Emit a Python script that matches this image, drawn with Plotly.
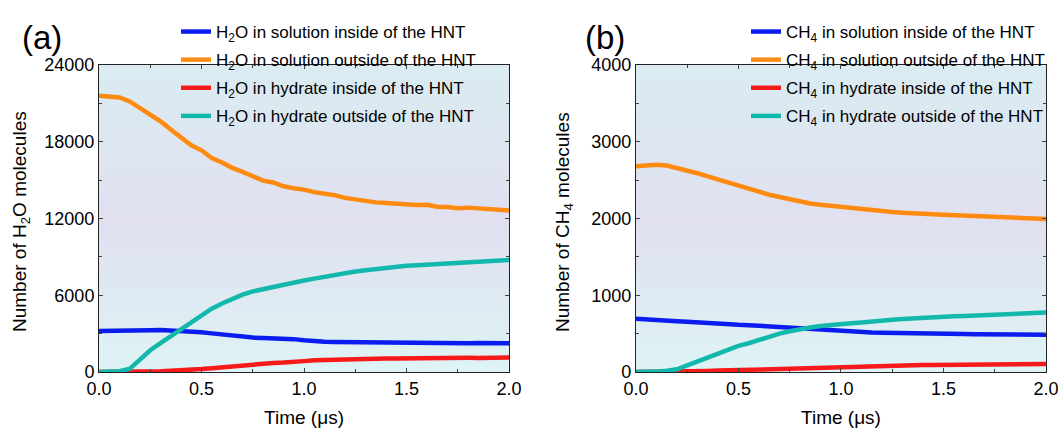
import plotly.graph_objects as go
from plotly.subplots import make_subplots

# Simulation time (microseconds)
time_us = [round(0.05 * i, 2) for i in range(41)]

# (a) Number of H2O molecules
h2o_sol_in = [3200, 3230, 3250, 3240, 3265, 3270, 3285, 3250, 3235, 3180,
              3100, 3020, 2930, 2840, 2730, 2690, 2650, 2630, 2600, 2570,
              2480, 2390, 2360, 2340, 2330, 2300, 2290, 2270, 2280, 2260,
              2250, 2270, 2240, 2250, 2260, 2230, 2240, 2260, 2230, 2240, 2250]
h2o_sol_out = [21600, 21560, 21460, 21150, 20650, 20180, 19600, 18950, 18280, 17720,
               17330, 16720, 16380, 15960, 15650, 15270, 14960, 14820, 14520, 14370,
               14260, 14060, 13960, 13820, 13610, 13470, 13360, 13260, 13220, 13150,
               13110, 13060, 13080, 12920, 12900, 12810, 12850, 12790, 12770, 12720, 12620]
h2o_hyd_in = [0, 0, 0, 10, 20, 40, 60, 90, 120, 170,
              230, 300, 380, 460, 550, 620, 680, 710, 740, 760,
              850, 920, 950, 960, 980, 1000, 1020, 1030, 1050, 1060,
              1080, 1070, 1090, 1080, 1100, 1090, 1110, 1100, 1120, 1110, 1130]
h2o_hyd_out = [0, 20, 60, 250, 950, 1700, 2250, 2800, 3350, 3950,
               4450, 4950, 5350, 5700, 6050, 6300, 6480, 6700, 6850, 7000,
               7150, 7300, 7450, 7550, 7720, 7850, 7950, 8060, 8150, 8200,
               8310, 8350, 8400, 8430, 8480, 8500, 8560, 8600, 8640, 8700, 8760]

# (b) Number of CH4 molecules
ch4_sol_in = [695, 690, 680, 672, 662, 655, 645, 636, 628, 620,
              615, 610, 602, 595, 585, 572, 562, 555, 552, 550,
              535, 520, 518, 515, 512, 508, 505, 503, 500, 498,
              497, 495, 494, 492, 491, 490, 489, 488, 487, 486, 485]
ch4_sol_out = [2680, 2690, 2700, 2690, 2660, 2620, 2590, 2550, 2510, 2460,
               2420, 2380, 2340, 2310, 2280, 2250, 2220, 2195, 2180, 2165,
               2160, 2140, 2125, 2110, 2100, 2085, 2075, 2065, 2060, 2055,
               2050, 2045, 2040, 2040, 2030, 2025, 2020, 2015, 2010, 2000, 1995]
ch4_hyd_in = [0, 0, 0, 0, 3, 6, 10, 14, 18, 22,
              26, 30, 36, 42, 48, 52, 55, 58, 60, 62,
              66, 72, 76, 80, 82, 84, 86, 88, 90, 92,
              94, 95, 96, 97, 98, 99, 100, 100, 101, 102, 103]
ch4_hyd_out = [0, 0, 5, 15, 35, 85, 135, 190, 245, 295,
               340, 375, 420, 460, 500, 530, 560, 580, 600, 615,
               625, 635, 645, 660, 670, 680, 690, 700, 705, 715,
               720, 725, 730, 735, 740, 745, 750, 755, 760, 765, 775]

series_colors = ["#0b1cf0", "#ff8a10", "#f81a1a", "#12b8ac"]
h2o_names = ["H<sub>2</sub>O in solution inside of the HNT",
             "H<sub>2</sub>O in solution outside of the HNT",
             "H<sub>2</sub>O in hydrate inside of the HNT",
             "H<sub>2</sub>O in hydrate outside of the HNT"]
ch4_names = ["CH<sub>4</sub> in solution inside of the HNT",
             "CH<sub>4</sub> in solution outside of the HNT",
             "CH<sub>4</sub> in hydrate inside of the HNT",
             "CH<sub>4</sub> in hydrate outside of the HNT"]

FONT = "Liberation Sans, Arial, sans-serif"
W, H = 1061, 428
ML, MR, MT, MB = 99, 15, 65, 56
plot_w = W - ML - MR
plot_h = H - MT - MB


def px_x(p):
    """Horizontal pixel position -> paper fraction."""
    return (p - ML) / plot_w


def px_y(p):
    """Vertical pixel position (from top) -> paper fraction."""
    return (H - MB - p) / plot_h


fig = make_subplots(rows=1, cols=2, horizontal_spacing=0.134)

for i, (ys, name) in enumerate(zip([h2o_sol_in, h2o_sol_out, h2o_hyd_in, h2o_hyd_out], h2o_names)):
    fig.add_trace(go.Scatter(x=time_us, y=ys, mode="lines", name=name,
                             line=dict(color=series_colors[i], width=4.5),
                             legend="legend", legendgroup=f"a{i}"), row=1, col=1)
for i, (ys, name) in enumerate(zip([ch4_sol_in, ch4_sol_out, ch4_hyd_in, ch4_hyd_out], ch4_names)):
    fig.add_trace(go.Scatter(x=time_us, y=ys, mode="lines", name=name,
                             line=dict(color=series_colors[i], width=4.5),
                             legend="legend2", legendgroup=f"b{i}"), row=1, col=2)

# Vertical background gradient in each plot area: pale cyan bottom, lavender middle, blue-grey top
stops = [(0.0, (222, 243, 245)), (0.5, (224, 224, 240)), (1.0, (218, 236, 241))]


def grad_color(f):
    for (f0, c0), (f1, c1) in zip(stops[:-1], stops[1:]):
        if f0 <= f <= f1:
            u = (f - f0) / (f1 - f0)
            return "rgb(%d,%d,%d)" % tuple(round(a + (b - a) * u) for a, b in zip(c0, c1))
    return "rgb(%d,%d,%d)" % stops[-1][1]


n_bands = 40
shapes = []
for xr, yr in (("x domain", "y domain"), ("x2 domain", "y2 domain")):
    for k in range(n_bands):
        f0, f1 = k / n_bands, (k + 1) / n_bands
        shapes.append(dict(type="rect", xref=xr, yref=yr, x0=0, x1=1, y0=f0, y1=f1 + 0.002,
                           fillcolor=grad_color((f0 + f1) / 2), line=dict(width=0), layer="below"))

axis_common = dict(showline=True, linecolor="#222", linewidth=1, mirror="allticks",
                   ticks="inside", ticklen=4, tickcolor="#444", automargin=False,
                   tickfont=dict(size=18, color="black", family=FONT),
                   showgrid=False, zeroline=False)

fig.update_xaxes(range=[0, 2], tickvals=[0, 0.5, 1.0, 1.5, 2.0], tickformat=".1f",
                 minor=dict(tickvals=[0.25, 0.75, 1.25, 1.75], ticks="inside", ticklen=3, tickcolor="#444"),
                 title=dict(text="Time (\u03bcs)", font=dict(size=19, color="black", family=FONT)),
                 **axis_common)
fig.update_yaxes(range=[0, 24000], tickvals=[0, 6000, 12000, 18000, 24000], tickformat="d",
                 minor=dict(tickvals=[3000, 9000, 15000, 21000], ticks="inside", ticklen=3, tickcolor="#444"),
                 row=1, col=1, **axis_common)
fig.update_yaxes(range=[0, 4000], tickvals=[0, 1000, 2000, 3000, 4000], tickformat="d",
                 minor=dict(tickvals=[500, 1500, 2500, 3500], ticks="inside", ticklen=3, tickcolor="#444"),
                 row=1, col=2, **axis_common)

legend_common = dict(bgcolor="rgba(0,0,0,0)", borderwidth=0, tracegroupgap=3,
                     font=dict(size=17, color="black", family=FONT),
                     xanchor="left", yanchor="top", xref="container", yref="container")

fig.update_layout(
    width=W, height=H,
    margin=dict(l=ML, r=MR, t=MT, b=MB, autoexpand=False),
    paper_bgcolor="white", plot_bgcolor="rgba(0,0,0,0)",
    font=dict(family=FONT, color="black"),
    shapes=shapes,
    legend=dict(x=176 / W, y=1 - 14 / H, **legend_common),
    legend2=dict(x=746 / W, y=1 - 14 / H, **legend_common),
)

# Vertical axis titles
fig.add_annotation(text="Number of H<sub>2</sub>O molecules", textangle=-90,
                   xref="paper", yref="paper", x=px_x(21), y=px_y(222),
                   xanchor="center", yanchor="middle", showarrow=False,
                   font=dict(size=19, color="black", family=FONT))
fig.add_annotation(text="Number of CH<sub>4</sub> molecules", textangle=-90,
                   xref="paper", yref="paper", x=px_x(564), y=px_y(222),
                   xanchor="center", yanchor="middle", showarrow=False,
                   font=dict(size=19, color="black", family=FONT))

# Panel labels
fig.add_annotation(text="(a)", xref="paper", yref="paper", x=px_x(20), y=px_y(38),
                   xanchor="left", yanchor="middle", showarrow=False,
                   font=dict(size=33, color="black", family=FONT))
fig.add_annotation(text="(b)", xref="paper", yref="paper", x=px_x(583), y=px_y(38),
                   xanchor="left", yanchor="middle", showarrow=False,
                   font=dict(size=33, color="black", family=FONT))

fig.write_html("out.html")
